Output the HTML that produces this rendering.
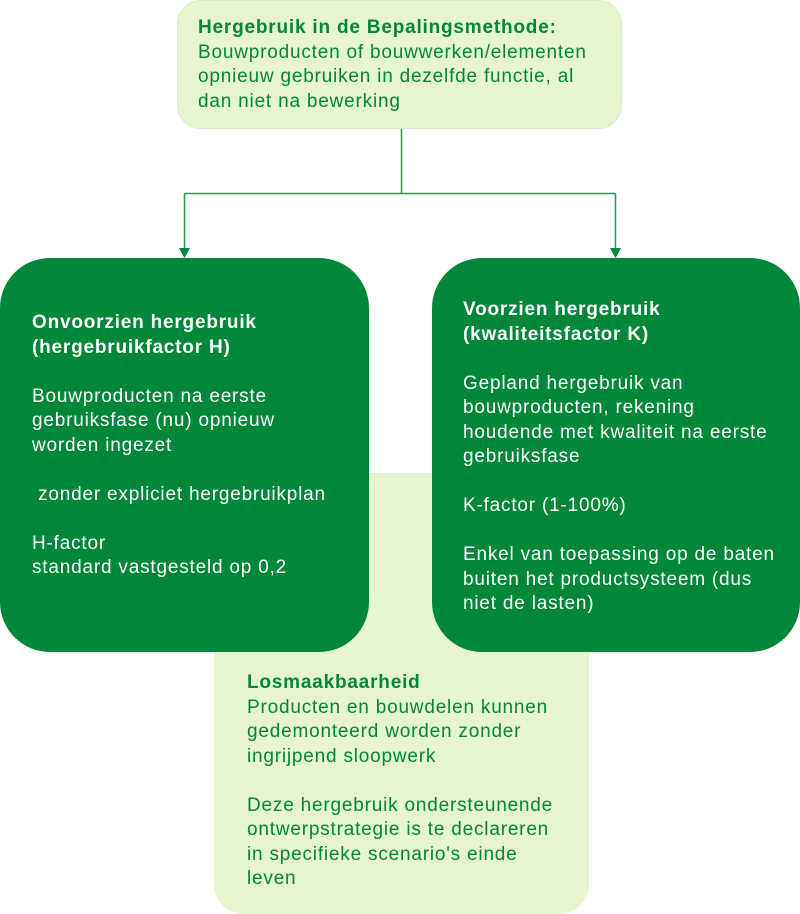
<!DOCTYPE html>
<html><head><meta charset="utf-8"><style>
body{margin:0;width:800px;height:914px;background:#fff;position:relative;overflow:hidden;font-family:"Liberation Sans",sans-serif;font-size:19px;letter-spacing:0.8px;line-height:24.5px}
.b{position:absolute;box-sizing:border-box}
.t{position:absolute;white-space:pre}
b{font-weight:bold}
</style></head><body>
<div class="b" style="left:177px;top:0;width:445px;height:129px;background:#e6f5cf;border-radius:24px;border:1px solid #d8edc0"></div>
<div class="b" style="left:214px;top:473px;width:375px;height:441px;background:#e6f5cf;border-radius:0 0 30px 30px"></div>
<div class="b" style="left:0;top:258px;width:369px;height:394px;background:#00873a;border-radius:50px"></div>
<div class="b" style="left:432px;top:258px;width:368px;height:394px;background:#00873a;border-radius:50px"></div>
<svg class="b" style="left:0;top:0" width="800" height="914">
<g stroke="#1f9a4c" stroke-width="1.5" fill="none">
<path d="M401.5 129V193.5M184.5 193.5H615.5M184.5 193.5V250M615.5 193.5V250"/>
</g>
<path d="M179 248h11l-5.5 10z M610 248h11l-5.5 10z" fill="#00873a"/>
</svg>
<div class="t" style="left:198px;top:16px;color:#00873a"><b>Hergebruik in de Bepalingsmethode:</b>
Bouwproducten of bouwwerken/elementen
opnieuw gebruiken in dezelfde functie, al
dan niet na bewerking</div>
<div class="t" style="left:32px;top:311px;color:#fff"><b>Onvoorzien hergebruik</b>
<b>(hergebruikfactor H)</b>

Bouwproducten na eerste
gebruiksfase (nu) opnieuw
worden ingezet

 zonder expliciet hergebruikplan

H-factor
standard vastgesteld op 0,2</div>
<div class="t" style="left:463px;top:298px;color:#fff"><b>Voorzien hergebruik</b>
<b>(kwaliteitsfactor K)</b>

Gepland hergebruik van
bouwproducten, rekening
houdende met kwaliteit na eerste
gebruiksfase

K-factor (1-100%)

Enkel van toepassing op de baten
buiten het productsysteem (dus
niet de lasten)</div>
<div class="t" style="left:247px;top:671px;color:#00873a"><b>Losmaakbaarheid</b>
Producten en bouwdelen kunnen
gedemonteerd worden zonder
ingrijpend sloopwerk

Deze hergebruik ondersteunende
ontwerpstrategie is te declareren
in specifieke scenario's einde
leven</div>
</body></html>
